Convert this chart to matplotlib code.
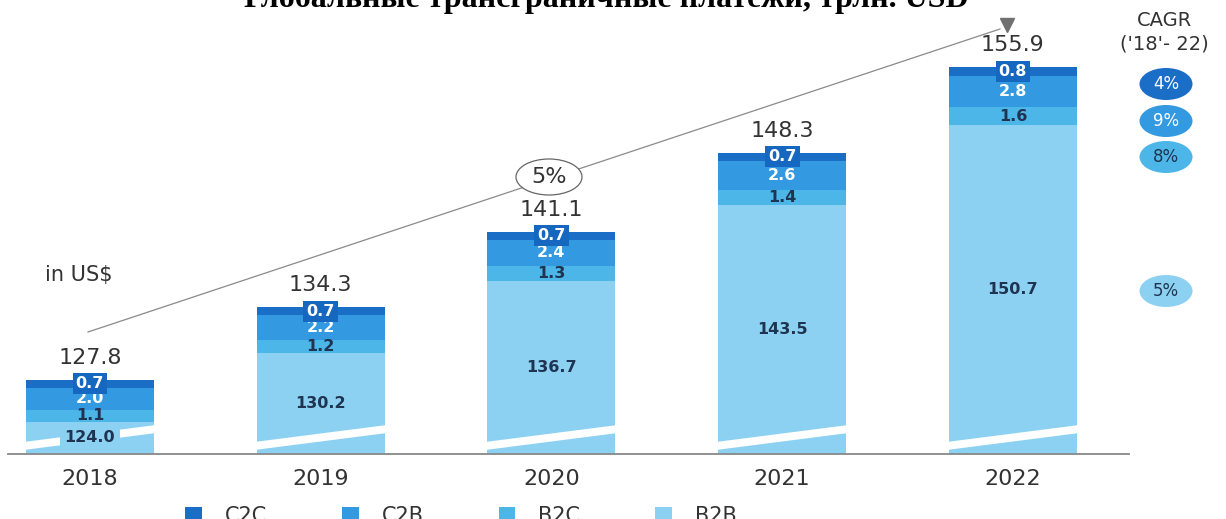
import matplotlib.pyplot as plt
from matplotlib.patches import Ellipse, Polygon
from matplotlib.lines import Line2D
import matplotlib.transforms as mtransforms
import numpy as np

# Données (trln USD)
years = ["2018", "2019", "2020", "2021", "2022"]
b2b = [124.0, 130.2, 136.7, 143.5, 150.7]
b2c = [1.1, 1.2, 1.3, 1.4, 1.6]
c2b = [2.0, 2.2, 2.4, 2.6, 2.8]
c2c = [0.7, 0.7, 0.7, 0.7, 0.8]
totals = ["127.8", "134.3", "141.1", "148.3", "155.9"]
cagr_labels = ["4%", "9%", "8%", "5%"]
cagr_total = "5%"

col_c2c = "#1b6ec6"
col_c2b = "#3399e0"
col_b2c = "#4cb6e9"
col_b2b = "#8cd1f1"
dark = "#1e3450"
grey_txt = "#333333"

W, H = 1226, 519
fig = plt.figure(figsize=(W / 100, H / 100), dpi=100)
ax = fig.add_axes([8 / W, (H - 454) / H, (1129 - 8) / W, 454 / H])
ymin, ymax = 121.12, 161.95

x = np.arange(len(years))
w = 0.555
series = [("B2B", b2b, col_b2b), ("B2C", b2c, col_b2c),
          ("C2B", c2b, col_c2b), ("C2C", c2c, col_c2c)]

bottom = np.zeros(len(years))
handles = {}
for name, vals, col in series:
    vals = np.array(vals)
    bars = ax.bar(x, vals, w, bottom=bottom, color=col, label=name, zorder=2)
    handles[name] = bars
    for xi, b, v in zip(x, bottom, vals):
        yc = (max(b, ymin) + b + v) / 2
        box = None
        if name == "C2C":
            tc = "white"
            box = dict(boxstyle="square,pad=0.2", fc="#1567c0", ec="none")
        elif name == "C2B":
            tc = "white"
        elif name == "B2C":
            tc = dark
        else:
            tc = dark
            box = dict(boxstyle="square,pad=0.3", fc=col, ec="none")
        ax.text(xi, yc, "{:.1f}".format(v), ha="center", va="center",
                fontsize=11.5, fontweight="bold", color=tc, zorder=5, bbox=box)
    bottom = bottom + vals

# totaux au dessus des barres
for xi, top, t in zip(x, bottom, totals):
    ax.annotate(t, (xi, top), xytext=(0, 16), textcoords="offset points",
                ha="center", va="center", fontsize=16, color=grey_txt)

# coupures de l'axe (bandes blanches)
trans = mtransforms.blended_transform_factory(ax.transData, ax.transAxes)
y0, y1, h = 8 / 454, 25 / 454, 4 / 454
for xi in x:
    xl, xr = xi - w / 2 - 0.01, xi + w / 2 + 0.01
    ax.add_patch(Polygon([(xl, y0 - h), (xr, y1 - h), (xr, y1 + h), (xl, y0 + h)],
                         closed=True, fc="white", ec="none", transform=trans, zorder=3))

ax.set_xlim(-0.355, 4.503)
ax.set_ylim(ymin, ymax)
ax.set_xticks(x)
ax.set_xticklabels(years, fontsize=16, color=grey_txt)
ax.tick_params(axis="x", length=0, pad=11)
ax.set_yticks([])
for s in ["top", "left", "right"]:
    ax.spines[s].set_visible(False)
ax.spines["bottom"].set_color("#888888")
ax.spines["bottom"].set_linewidth(1.3)

# titre (coupé en haut de l'image)
fig.text(0.495, 1 - 7 / H, "Глобальные трансграничные платежи, трлн. USD",
         ha="center", va="baseline", fontsize=23, fontweight="bold",
         family="Liberation Serif")

# ligne de tendance + flèche
def fx(px):
    return px / W

def fy(py):
    return 1 - py / H

fig.add_artist(Line2D([fx(88), fx(1000)], [fy(332), fy(29)], color="#8a8a8a", lw=0.9))
fig.add_artist(Line2D([fx(1007)], [fy(25)], marker="v", markersize=10,
                      color="#707070", lw=0))
fig.add_artist(Ellipse((fx(549), fy(177)), 66 / W, 36 / H, fc="white",
                       ec="#666666", lw=0.9, zorder=5))
fig.text(fx(549), fy(177), cagr_total, ha="center", va="center",
         fontsize=16, color=grey_txt, zorder=6)

fig.text(fx(45), fy(275), "in US$", ha="left", va="center", fontsize=15, color=grey_txt)

# colonne CAGR
fig.text(fx(1164), fy(20), "CAGR", ha="center", va="center", fontsize=14, color=grey_txt)
fig.text(fx(1164), fy(44), "('18'- 22)", ha="center", va="center", fontsize=14, color=grey_txt)
cagr_y = [84, 121, 157, 291]
cagr_fc = [col_c2c, col_c2b, col_b2c, col_b2b]
cagr_tc = ["white", "white", dark, dark]
for lab, py, fc, tc in zip(cagr_labels, cagr_y, cagr_fc, cagr_tc):
    fig.add_artist(Ellipse((fx(1166), fy(py)), 53 / W, 32 / H, fc=fc, ec="none"))
    fig.text(fx(1166), fy(py), lab, ha="center", va="center", fontsize=12, color=tc)

# légende
order = ["C2C", "C2B", "B2C", "B2B"]
fig.legend([handles[n] for n in order], order, loc="center", ncol=4,
           bbox_to_anchor=(0.376, 0.006), frameon=False, fontsize=15,
           handlelength=0.8, handleheight=0.7, handletextpad=1.1,
           columnspacing=3.6, labelcolor=grey_txt)

fig.savefig("out.png", dpi=100)
